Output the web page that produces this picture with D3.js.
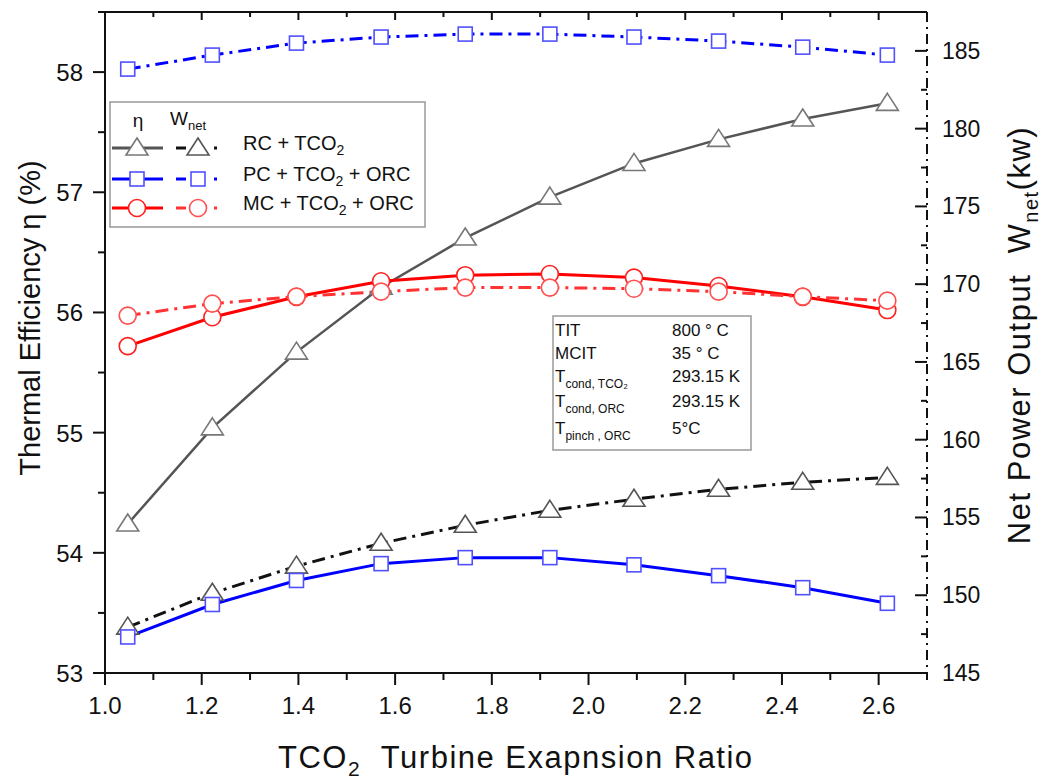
<!DOCTYPE html>
<html><head><meta charset="utf-8">
<script src="https://cdn.jsdelivr.net/npm/d3@7"></script>
<style>body{margin:0;background:#fff;} text{font-family:Arial,"Liberation Sans",sans-serif;}</style>
</head><body><svg id="c" width="1041" height="780"></svg>
<script>
const ratio = [1.047, 1.222, 1.396, 1.571, 1.745, 1.920, 2.094, 2.269, 2.443, 2.618];
const effRC  = [54.24, 55.04, 55.67, 56.21, 56.62, 56.96, 57.24, 57.44, 57.61, 57.74];
const effPC  = [53.30, 53.57, 53.77, 53.91, 53.96, 53.96, 53.90, 53.81, 53.71, 53.58];
const effMC  = [55.72, 55.96, 56.13, 56.26, 56.31, 56.32, 56.29, 56.22, 56.13, 56.02];
const wRC = [147.95, 150.13, 151.87, 153.34, 154.50, 155.46, 156.17, 156.81, 157.26, 157.58];
const wPC = [183.83, 184.73, 185.50, 185.89, 186.08, 186.08, 185.89, 185.63, 185.24, 184.73];
const wMC = [167.98, 168.75, 169.20, 169.52, 169.78, 169.78, 169.71, 169.52, 169.20, 168.94];
const xTicks = [1.0, 1.2, 1.4, 1.6, 1.8, 2.0, 2.2, 2.4, 2.6];
const yLeftTicks = [53, 54, 55, 56, 57, 58];
const yRightTicks = [145, 150, 155, 160, 165, 170, 175, 180, 185];
const info = [["TIT","","800 ° C"],["MCIT","","35 ° C"],["T","cond, TCO₂","293.15 K"],["T","cond, ORC","293.15 K"],["T","pinch , ORC","5°C"]];

const svg = d3.select("#c");
const L=105, R=927, T=12, B=673;
const x = d3.scaleLinear().domain([1.0, 2.7]).range([L, R]);
const yL = d3.scaleLinear().domain([53, 58.5]).range([B, T]);
const yR = d3.scaleLinear().domain([145, 187.5]).range([B, T]);
const ax = "#111";

// axes lines
svg.append("line").attr("x1",L).attr("x2",R).attr("y1",T).attr("y2",T).attr("stroke",ax).attr("stroke-width",2);
svg.append("line").attr("x1",L).attr("x2",R).attr("y1",B).attr("y2",B).attr("stroke",ax).attr("stroke-width",2);
svg.append("line").attr("x1",L).attr("x2",L).attr("y1",T).attr("y2",B).attr("stroke",ax).attr("stroke-width",2);
svg.append("line").attr("x1",R).attr("x2",R).attr("y1",T).attr("y2",B).attr("stroke",ax).attr("stroke-width",2).attr("stroke-dasharray","10,5,2,5");

// x ticks
const xMinor = d3.range(10, 28).map(d=>d/10);
xMinor.forEach(v=>{
  const major = Math.abs(v*5 - Math.round(v*5))<1e-6;
  svg.append("line").attr("x1",x(v)).attr("x2",x(v)).attr("y1",B).attr("y2",B+(major?12:7)).attr("stroke",ax).attr("stroke-width",2);
  svg.append("line").attr("x1",x(v)).attr("x2",x(v)).attr("y1",T).attr("y2",T+(major?8:5)).attr("stroke",ax).attr("stroke-width",2);
});
xTicks.forEach(v=>svg.append("text").attr("x",x(v)).attr("y",B+41).attr("text-anchor","middle").attr("font-size",24).attr("fill","#111").text(v.toFixed(1)));
// left ticks
d3.range(53, 58.51, 0.5).forEach(v=>{
  const major = Number.isInteger(v);
  svg.append("line").attr("x1",L-(major?12:7)).attr("x2",L).attr("y1",yL(v)).attr("y2",yL(v)).attr("stroke",ax).attr("stroke-width",2);
});
yLeftTicks.forEach(v=>svg.append("text").attr("x",83).attr("y",yL(v)+9).attr("text-anchor","end").attr("font-size",24).attr("fill","#111").text(v));
// right ticks
d3.range(145, 187.6, 2.5).forEach(v=>{
  const major = v%5===0;
  svg.append("line").attr("x1",R-(major?12:6)).attr("x2",R).attr("y1",yR(v)).attr("y2",yR(v)).attr("stroke",ax).attr("stroke-width",2);
});
yRightTicks.forEach(v=>svg.append("text").attr("x",942).attr("y",yR(v)+8).attr("font-size",23).attr("fill","#111").text(v));

// axis titles
const xt = svg.append("text").attr("x",278).attr("y",768).attr("font-size",31).attr("letter-spacing",1.5).attr("fill","#111");
xt.append("tspan").text("TCO");
xt.append("tspan").attr("font-size",21).attr("dy",8).text("2");
xt.append("tspan").attr("dy",-8).text("\u00a0 Turbine Exapnsion Ratio");
svg.append("text").attr("transform","translate(40,318) rotate(-90)").attr("text-anchor","middle").attr("font-size",29).attr("fill","#111").text("Thermal Efficiency η (%)");
const yt = svg.append("text").attr("transform","translate(1030,335) rotate(-90)").attr("text-anchor","middle").attr("font-size",31).attr("letter-spacing",1.5).attr("fill","#111");
yt.append("tspan").text("Net Power Output\u00a0 W");
yt.append("tspan").attr("font-size",20).attr("dy",8).text("net");
yt.append("tspan").attr("dy",-8).text("(kw)");

// series
const dashW = "13,6,3,6";
const series = [
  {v:effRC, y:yL, line:"#555", w:2.5, dash:null, mk:"tri", ms:"#777"},
  {v:wRC, y:yR, line:"#111", w:3, dash:dashW, mk:"tri", ms:"#555"},
  {v:effPC, y:yL, line:"#0000ff", w:3, dash:null, mk:"sq", ms:"#5050ff"},
  {v:wPC, y:yR, line:"#0000ff", w:3, dash:dashW, mk:"sq", ms:"#5050ff"},
  {v:effMC, y:yL, line:"#ff0000", w:3, dash:null, mk:"ci", ms:"#ff2020"},
  {v:wMC, y:yR, line:"#ff3333", w:3, dash:dashW, mk:"ci", ms:"#ff5050"}
];
const triPath = "M0,-10 L11,7 L-11,7 Z";
function marker(g, type, stroke, cx, cy){
  if(type==="tri") g.append("path").attr("d",triPath).attr("transform",`translate(${cx},${cy})`).attr("fill","#fff").attr("stroke",stroke).attr("stroke-width",1.6);
  else if(type==="sq") g.append("rect").attr("x",cx-7).attr("y",cy-7).attr("width",14).attr("height",14).attr("fill","#fff").attr("stroke",stroke).attr("stroke-width",1.6);
  else g.append("circle").attr("cx",cx).attr("cy",cy).attr("r",8.5).attr("fill","#fff").attr("stroke",stroke).attr("stroke-width",1.6);
}
series.forEach(s=>{
  const line = d3.line().x((d,i)=>x(ratio[i])).y(d=>s.y(d));
  svg.append("path").attr("d",line(s.v)).attr("fill","none").attr("stroke",s.line).attr("stroke-width",s.w).attr("stroke-dasharray",s.dash);
});
series.forEach(s=>{
  const g = svg.append("g");
  s.v.forEach((d,i)=>marker(g, s.mk, s.ms, x(ratio[i]), s.y(d)));
});

// legend
const lg = svg.append("g");
lg.append("rect").attr("x",110).attr("y",102).attr("width",315).attr("height",125).attr("fill","#fff").attr("stroke","#999").attr("stroke-width",1.5);
lg.append("text").attr("x",138).attr("y",127).attr("text-anchor","middle").attr("font-size",19).attr("fill","#111").text("η");
const wl = lg.append("text").attr("x",170).attr("y",125).attr("font-size",19).attr("fill","#111");
wl.append("tspan").text("W"); wl.append("tspan").attr("font-size",13).attr("dy",5).text("net");
const legRows = [
  {y:148, s1:series[0], s2:series[1], label:[["RC + TCO",""],["2","sub"]]},
  {y:179, s1:series[2], s2:series[3], label:[["PC + TCO",""],["2","sub"],[" + ORC",""]]},
  {y:208, s1:series[4], s2:series[5], label:[["MC + TCO",""],["2","sub"],[" + ORC",""]]}
];
legRows.forEach(r=>{
  lg.append("line").attr("x1",112).attr("x2",163).attr("y1",r.y).attr("y2",r.y).attr("stroke",r.s1.line).attr("stroke-width",3);
  marker(lg, r.s1.mk, r.s1.ms, 137, r.y);
  lg.append("line").attr("x1",176).attr("x2",218).attr("y1",r.y).attr("y2",r.y).attr("stroke",r.s2.line).attr("stroke-width",3).attr("stroke-dasharray","10,28,3,50");
  marker(lg, r.s2.mk, r.s2.ms, 198, r.y);
  const t = lg.append("text").attr("x",243).attr("y",r.y+7).attr("font-size",20).attr("fill","#111");
  r.label.forEach(p=>{
    if(p[1]==="sub") t.append("tspan").attr("font-size",14).attr("dy",5).text(p[0]);
    else t.append("tspan").attr("dy", t.selectAll("tspan").size()? -5:0).text(p[0]);
  });
});

// info box
const ib = svg.append("g");
ib.append("rect").attr("x",553).attr("y",316).attr("width",198).attr("height",134).attr("fill","#fff").attr("stroke","#999").attr("stroke-width",1.5);
const infoY = [336, 359, 382, 407, 434];
info.forEach((r,i)=>{
  const t = ib.append("text").attr("x",555).attr("y",infoY[i]).attr("font-size",17).attr("fill","#111");
  t.append("tspan").text(r[0]);
  if(r[1]) t.append("tspan").attr("font-size",12).attr("dy",6).text(r[1]);
  ib.append("text").attr("x",672).attr("y",infoY[i]).attr("font-size",17).attr("fill","#111").text(r[2]);
});
</script></body></html>
